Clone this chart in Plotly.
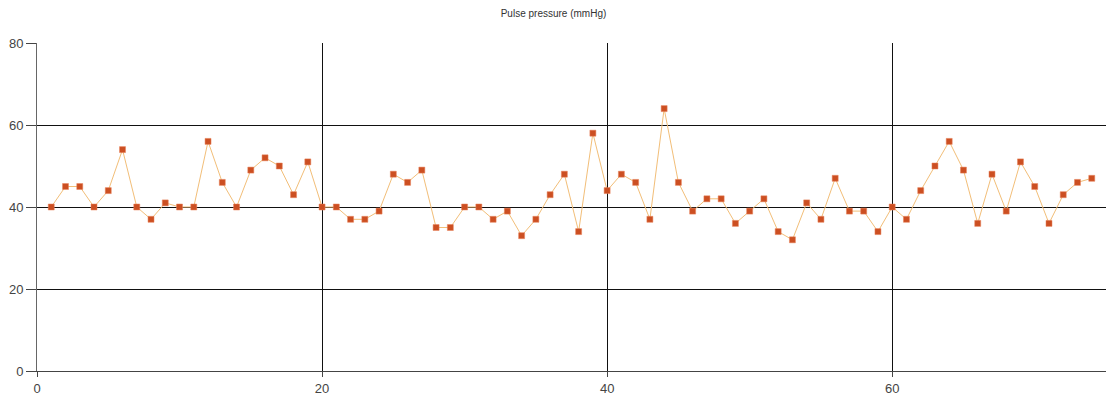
import plotly.graph_objects as go

# Beat index and measured pulse pressure (mmHg)
beat = list(range(1, 75))
pulse_pressure = [
    40, 45, 45, 40, 44, 54, 40, 37, 41, 40, 40, 56, 46, 40, 49, 52, 50, 43, 51, 40,
    40, 37, 37, 39, 48, 46, 49, 35, 35, 40, 40, 37, 39, 33, 37, 43, 48, 34, 58, 44,
    48, 46, 37, 64, 46, 39, 42, 42, 36, 39, 42, 34, 32, 41, 37, 47, 39, 39, 34, 40,
    37, 44, 50, 56, 49, 36, 48, 39, 51, 45, 36, 43, 46, 47,
]
x_ticks = [0, 20, 40, 60]
y_ticks = [0, 20, 40, 60, 80]

fig = go.Figure()
fig.add_trace(go.Scatter(
    x=beat,
    y=pulse_pressure,
    mode="lines+markers",
    line=dict(color="#F2BE78", width=1),
    marker=dict(symbol="square", size=6, color="#CC4F22",
                line=dict(color="#E8825A", width=0.5)),
    showlegend=False,
))

axis_font = dict(family="Liberation Sans, Arial, sans-serif", size=13, color="#444444")

fig.update_layout(
    width=1107,
    height=399,
    margin=dict(l=37, r=1, t=43, b=28),
    paper_bgcolor="white",
    plot_bgcolor="white",
    title=dict(
        text="Pulse pressure (mmHg)",
        x=0.5, xanchor="center",
        y=1 - 13 / 399, yanchor="middle",
        font=dict(family="Liberation Sans, Arial, sans-serif", size=10, color="#333333"),
    ),
    xaxis=dict(
        range=[0, 75],
        tickvals=x_ticks,
        ticktext=[str(v) for v in x_ticks],
        showgrid=True, gridcolor="#111111", gridwidth=1,
        zeroline=False,
        showline=True, linecolor="#444444", linewidth=1,
        ticks="outside", ticklen=5, tickcolor="#444444",
        tickfont=axis_font,
    ),
    yaxis=dict(
        range=[0, 80],
        tickvals=y_ticks,
        ticktext=[str(v) for v in y_ticks],
        showgrid=True, gridcolor="#111111", gridwidth=1,
        zeroline=False,
        showline=True, linecolor="#666666", linewidth=1,
        ticks="outside", ticklen=10, tickcolor="#444444",
        tickfont=axis_font,
        ticklabelstandoff=0,
    ),
)

fig.write_html("out.html")
